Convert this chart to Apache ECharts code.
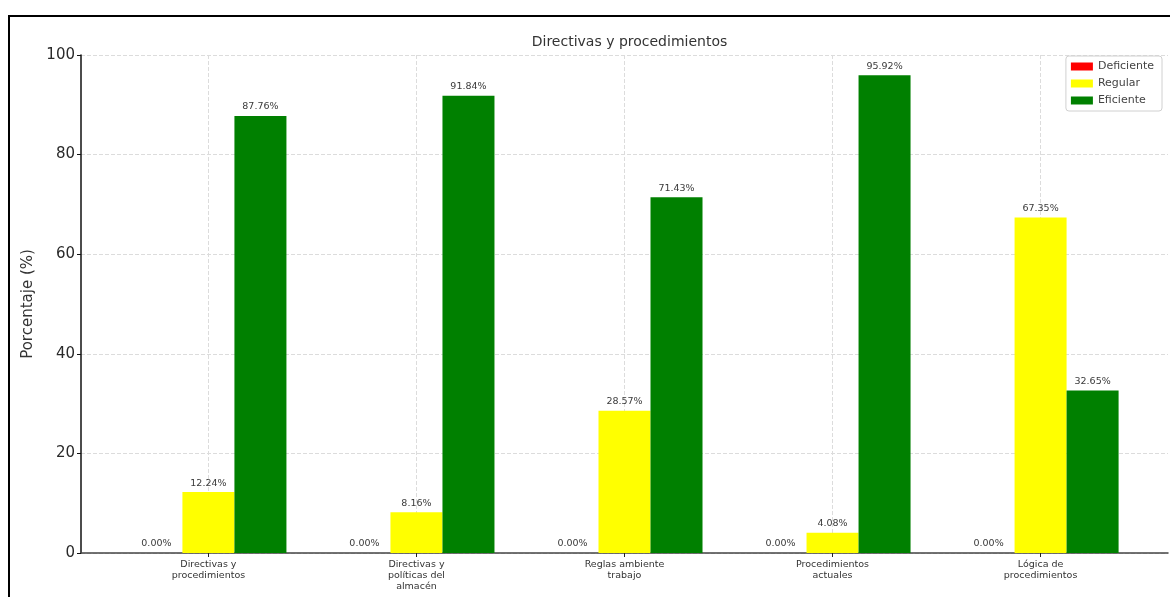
<!DOCTYPE html>
<html>
<head>
<meta charset="utf-8">
<title>Directivas y procedimientos</title>
<script src="https://cdn.jsdelivr.net/npm/echarts@6/dist/echarts.min.js"></script>
<style>
  html, body { margin: 0; padding: 0; background: #ffffff; }
  #chart { width: 1170px; height: 597px; }
</style>
</head>
<body>
<div id="chart"></div>
<script>
// Survey results per item, in percent
const categories = [
  'Directivas y\nprocedimientos',
  'Directivas y\npolíticas del\nalmacén',
  'Reglas ambiente\ntrabajo',
  'Procedimientos\nactuales',
  'Lógica de\nprocedimientos'
];
const deficiente = [0, 0, 0, 0, 0];
const regular = [12.24, 8.16, 28.57, 4.08, 67.35];
const eficiente = [87.76, 91.84, 71.43, 95.92, 32.65];
const yTicks = [0, 20, 40, 60, 80, 100];

const FONT = 'DejaVu Sans';
const W = 1170;

// Plot frame (axes box) and the inner span holding the category centres
const plotLeft = 81, plotRight = 1168, plotTop = 55, plotBottom = 553;
const edgeFrac = 0.6125 / (categories.length - 1 + 2 * 0.6125);
const pad = (plotRight - plotLeft) * edgeFrac;
const innerLeft = plotLeft + pad, innerRight = plotRight - pad;
const groupStep = (innerRight - innerLeft) / (categories.length - 1);
const barW = groupStep * 0.25;

const pct = p => p.value.toFixed(2) + '%';

function barSeries(name, data, color) {
  return {
    name: name,
    type: 'bar',
    xAxisIndex: 1,
    yAxisIndex: 1,
    data: data,
    barWidth: barW,
    barGap: '0%',
    clip: false,
    itemStyle: { color: color },
    label: {
      show: true,
      position: 'top',
      distance: 4,
      formatter: pct,
      fontFamily: FONT,
      fontSize: 9.5,
      color: '#3a3a3a'
    }
  };
}

const chart = echarts.init(document.getElementById('chart'), null, { renderer: 'canvas' });

chart.setOption({
  backgroundColor: '#ffffff',
  animation: false,
  title: {
    text: 'Directivas y procedimientos',
    left: (plotLeft + plotRight) / 2,
    textAlign: 'center',
    top: 30,
    textStyle: { fontFamily: FONT, fontSize: 14, fontWeight: 'normal', color: '#333333' }
  },
  legend: {
    orient: 'vertical',
    right: 8,
    top: 56,
    itemWidth: 22,
    itemHeight: 8,
    itemGap: 6,
    icon: 'rect',
    padding: [5, 8, 5, 5],
    borderColor: '#d0d0d0',
    borderWidth: 1,
    borderRadius: 3,
    backgroundColor: '#ffffff',
    textStyle: { fontFamily: FONT, fontSize: 11, color: '#444444' },
    data: ['Deficiente', 'Regular', 'Eficiente']
  },
  graphic: [{
    type: 'rect',
    silent: true,
    z: -10,
    shape: { x: 9, y: 16, width: W, height: 700 },
    style: { fill: 'none', stroke: '#000000', lineWidth: 2 }
  }],
  grid: [
    { left: plotLeft, right: W - plotRight, top: plotTop, bottom: 597 - plotBottom },
    { left: innerLeft, right: W - innerRight, top: plotTop, bottom: 597 - plotBottom }
  ],
  xAxis: [
    {
      gridIndex: 0,
      type: 'value',
      min: 0,
      max: 1,
      axisLine: { show: true, lineStyle: { color: '#444444', width: 1.5 } },
      axisTick: { show: false },
      axisLabel: { show: false },
      splitLine: { show: false }
    },
    {
      gridIndex: 1,
      type: 'category',
      data: categories,
      boundaryGap: false,
      axisLine: { show: false },
      axisTick: { show: true, length: 4, lineStyle: { color: '#222222' } },
      axisLabel: {
        fontFamily: FONT,
        fontSize: 9.5,
        lineHeight: 11,
        color: '#333333',
        align: 'center',
        margin: 6,
        interval: 0
      },
      splitLine: { show: true, lineStyle: { color: '#dcdcdc', type: 'dashed', width: 1 } }
    }
  ],
  yAxis: [
    {
      gridIndex: 0,
      type: 'value',
      min: yTicks[0],
      max: yTicks[yTicks.length - 1],
      interval: yTicks[1] - yTicks[0],
      name: 'Porcentaje (%)',
      nameLocation: 'middle',
      nameGap: 38,
      nameTextStyle: { fontFamily: FONT, fontSize: 15, color: '#333333' },
      axisLine: { show: true, lineStyle: { color: '#111111', width: 1.5 } },
      axisTick: { show: true, length: 4, lineStyle: { color: '#111111' } },
      axisLabel: { fontFamily: FONT, fontSize: 15, color: '#2a2a2a', margin: 6 },
      splitLine: { show: true, lineStyle: { color: '#dcdcdc', type: 'dashed', width: 1 } }
    },
    {
      gridIndex: 1,
      type: 'value',
      min: yTicks[0],
      max: yTicks[yTicks.length - 1],
      interval: yTicks[1] - yTicks[0],
      show: false
    }
  ],
  series: [
    barSeries('Deficiente', deficiente, '#ff0000'),
    barSeries('Regular', regular, '#ffff00'),
    barSeries('Eficiente', eficiente, '#008000')
  ]
});
</script>
</body>
</html>
